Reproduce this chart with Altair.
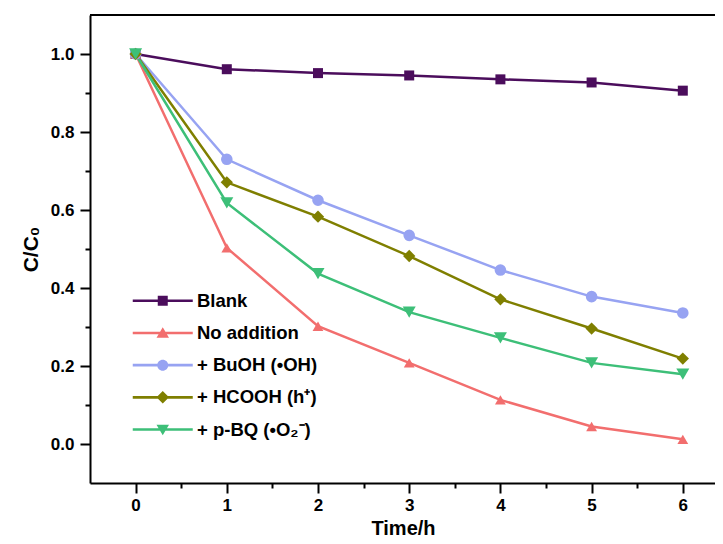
import altair as alt
import pandas as pd

# ---- data ----
series = ["Blank", "No addition", "+ BuOH (•OH)", "+ HCOOH (h⁺)", "+ p-BQ (•O₂⁻)"]
time_h = [0, 1, 2, 3, 4, 5, 6]
blank = [1.0, 0.961, 0.951, 0.945, 0.935, 0.927, 0.906]
no_addition = [1.0, 0.503, 0.302, 0.208, 0.113, 0.045, 0.012]
buoh = [1.0, 0.730, 0.625, 0.535, 0.446, 0.378, 0.336]
hcooh = [1.0, 0.671, 0.583, 0.482, 0.371, 0.296, 0.219]
pbq = [1.0, 0.618, 0.437, 0.338, 0.272, 0.208, 0.179]

colors = ["#4B0D5C", "#F26E6E", "#97A3F2", "#7F7F00", "#3DBF78"]
shapes = ["square", "triangle-up", "circle", "diamond", "triangle-down"]
sizes = [100, 169, 95, 216, 160]

y_ticks = [round(i * 0.1, 1) for i in range(0, 11)]
x_ticks = [i * 0.5 for i in range(0, 13)]

# legend glyphs: line segment + marker (unit coords, scaled by sqrt(symbolSize)/2)
seg = "M-6,-0.26H6V0.26H-6Z"
legend_paths = [
    seg + "M-1,-1H1V1H-1Z",
    seg + "M0,-1.15L1.25,0.95H-1.25Z",
    seg + "M-1.1,0A1.1,1.1,0,1,1,1.1,0A1.1,1.1,0,1,1,-1.1,0Z",
    seg + "M0,-1.25L1.25,0L0,1.25L-1.25,0Z",
    seg + "M-1.25,-0.95H1.25L0,1.15Z",
]

rows = []
for name, vals in zip(series, [blank, no_addition, buoh, hcooh, pbq]):
    for t, v in zip(time_h, vals):
        rows.append({"series": name, "t": t, "c": v})
df = pd.DataFrame(rows)

FONT = "Liberation Sans"
W, H = 625, 468

xscale = alt.Scale(domain=[-0.5, 6.353], nice=False, zero=False)
yscale = alt.Scale(domain=[-0.1, 1.1], nice=False, zero=False)

x_major = "abs(datum.value - round(datum.value)) < 0.001"
y_major = "abs(datum.value*10 - 2*round(datum.value*5)) < 0.001"

xaxis = alt.Axis(
    values=x_ticks,
    labelExpr=f"{x_major} ? format(datum.value, 'd') : ''",
    tickSize={"condition": {"test": x_major, "value": 10}, "value": 5},
    grid=False, labelOverlap=False, labelFlush=False, labelPadding=4,
    title="Time/h", titleX=313, titleY=51, titleBaseline="alphabetic",
    titleAlign="center", titleFontSize=20,
)
yaxis = alt.Axis(
    values=y_ticks,
    labelExpr=f"{y_major} ? format(datum.value, '.1f') : ''",
    tickSize={"condition": {"test": y_major, "value": 10}, "value": 5},
    grid=False, labelOverlap=False, labelFlush=False, labelPadding=6,
    title="C/C₀", titleX=-53, titleY=H / 2, titleAngle=-90,
    titleBaseline="alphabetic", titleAlign="center",
)

color_nolegend = alt.Color("series:N", scale=alt.Scale(domain=series, range=colors), legend=None)

base = alt.Chart(df)

lines = base.mark_line(strokeWidth=2.5).encode(
    x=alt.X("t:Q", scale=xscale, axis=xaxis),
    y=alt.Y("c:Q", scale=yscale, axis=yaxis),
    color=color_nolegend,
)

points = base.mark_point(filled=True, opacity=1).encode(
    x="t:Q",
    y="c:Q",
    color=color_nolegend,
    shape=alt.Shape("series:N", scale=alt.Scale(domain=series, range=shapes), legend=None),
    size=alt.Size("series:N", scale=alt.Scale(domain=series, range=sizes), legend=None),
)

leg = alt.Legend(
    orient="none", legendX=41, legendY=276.5, title=None,
    symbolSize=100, symbolStrokeWidth=0, symbolOffset=22.5, labelOffset=25,
    rowPadding=13.2, padding=0, labelFontSize=18.5, labelFontWeight="bold",
    labelFont=FONT, labelColor="black", labelLimit=500, symbolOpacity=1,
)

legend_layer = base.transform_calculate(key="datum.series").transform_filter("false").mark_point(
    filled=True, opacity=1, size=100
).encode(
    x="t:Q",
    y="c:Q",
    color=alt.Color("key:N", scale=alt.Scale(domain=series, range=colors), legend=leg),
    shape=alt.Shape("key:N", scale=alt.Scale(domain=series, range=legend_paths), legend=leg),
)

top_line = alt.Chart(df).mark_rule(color="black", strokeWidth=2).encode(
    x=alt.value(0), x2=alt.value(W), y=alt.value(0)
)

chart = (
    alt.layer(lines, points, legend_layer, top_line)
    .resolve_scale(color="independent", shape="independent")
    .properties(
        width=W, height=H,
        autosize=alt.AutoSizeParams(type="none"),
        padding={"left": 82, "top": 7, "right": 0, "bottom": 56},
    )
    .configure_view(stroke=None)
    .configure_axis(
        domainColor="black", domainWidth=2, tickColor="black", tickWidth=2,
        labelFont=FONT, labelFontSize=17, labelFontWeight="bold", labelColor="black",
        titleFont=FONT, titleFontSize=21, titleFontWeight="bold",
        titleColor="black",
    )
)

chart.save("out.html", embed_options={"renderer": "svg", "actions": False})
